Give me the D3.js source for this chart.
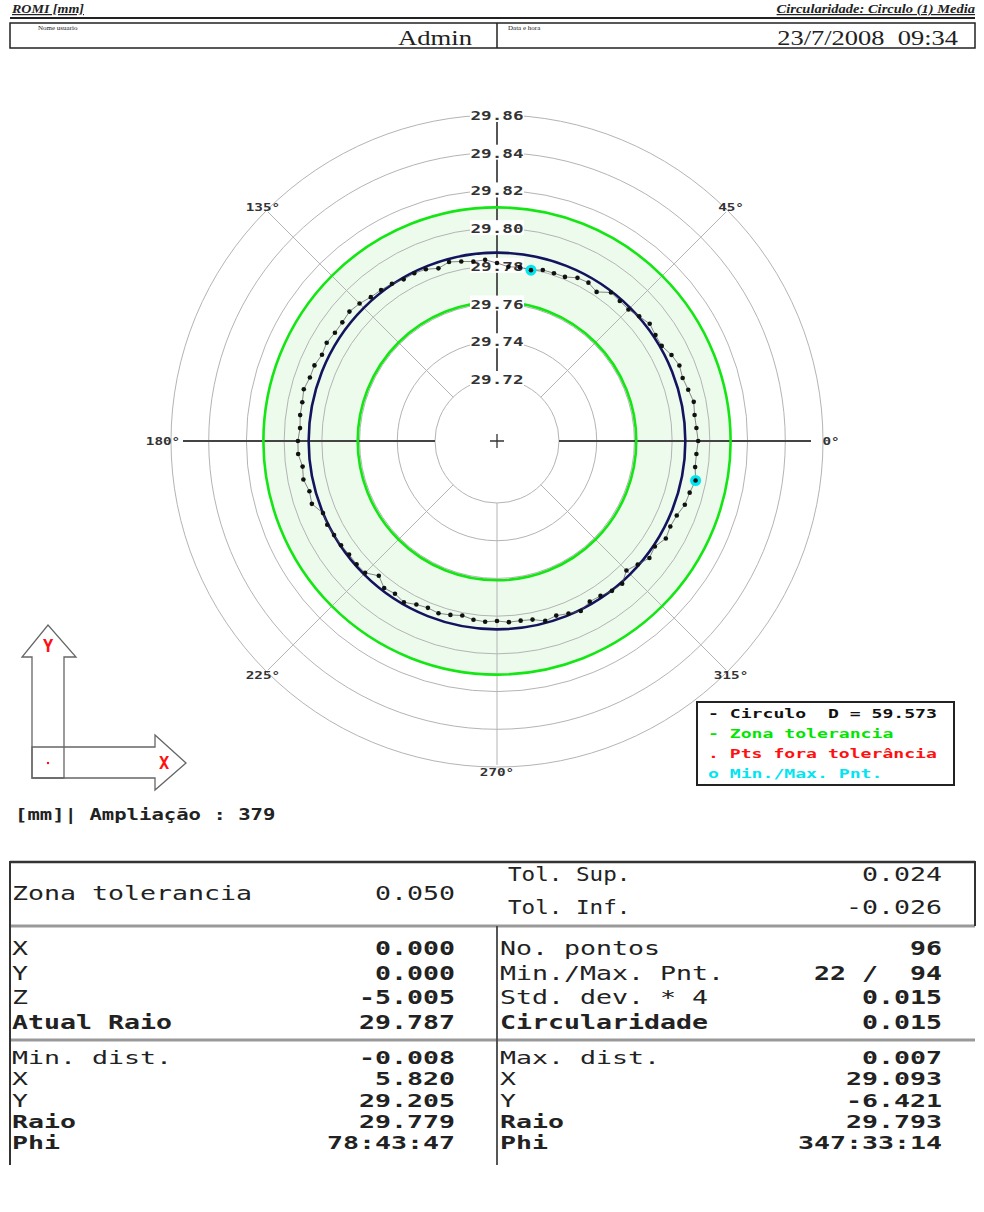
<!DOCTYPE html>
<html>
<head>
<meta charset="utf-8">
<script src="https://cdn.jsdelivr.net/npm/d3@7"></script>
<style>
  body { margin: 0; background: #fff; }
  svg { display: block; }
  text { white-space: pre; }
</style>
</head>
<body>
<svg id="chart"></svg>
<script>
// ring values on the radial axis
var ringValues = [29.72, 29.74, 29.76, 29.78, 29.80, 29.82, 29.84, 29.86];
var ringLabels = ["29.72", "29.74", "29.76", "29.78", "29.80", "29.82", "29.84", "29.86"];
var angleTicks = [0, 45, 135, 180, 225, 270, 315];
var angleLabels = ["0°", "45°", "135°", "180°", "225°", "270°", "315°"];

var nominalRadius = 29.787;
var tolSup = 0.024;
var tolInf = -0.026;
var pointCount = 96;
var minMaxPoints = [22, 94];
// deviation of every measured point from the fitted circle, in micrometres
var pointDev = [
  6.8, 6.1, 5.8, 6.5, 5.1, 4.1, 4.8, 3.3, 1.0, 1.2,
  2.2, 0.4, -1.3, -1.1, -0.6, -4.8, -2.9, -3.4, -5.7, -5.9,
  -6.0, -7.5, -6.9, -7.3, -5.5, -3.6, -3.9, -2.8, -1.6, -3.2,
  -1.3, -0.7, -0.9, 0.4, 1.1, 1.6, 3.2, 4.2, 3.5, 3.5,
  4.4, 3.6, 4.9, 4.9, 6.2, 5.4, 5.4, 4.8, 5.7, 5.8,
  4.1, 4.8, 3.1, 3.8, 0.0, 0.5, -0.1, -0.4, -1.0, -0.8,
  -1.0, -4.8, -1.6, -2.5, -1.1, -3.2, -4.1, -3.4, -4.4, -5.5,
  -4.3, -3.8, -4.4, -3.6, -3.8, -3.3, -1.1, -2.1, -0.8, 0.6,
  -1.5, -1.1, 0.3, 0.8, -2.8, -0.6, 2.0, 0.8, 3.5, 2.6,
  3.3, 5.3, 5.9, 7.5, 6.1, 6.1
];

var legendItems = ["- Circulo  D = 59.573", "- Zona tolerancia", ". Pts fora tolerância", "o Min./Max. Pnt."];
var legendColors = ["#111", "#00e600", "#ff1010", "#00e5f0"];

var tolRow = ["Zona tolerancia", "0.050"];
var tolRight = [["Tol. Sup.", "0.024"], ["Tol. Inf.", "-0.026"]];
var midLeft = [["X", "0.000"], ["Y", "0.000"], ["Z", "-5.005"], ["Atual Raio", "29.787"]];
var midRight = [["No. pontos", "96"], ["Min./Max. Pnt.", "22 /  94"], ["Std. dev. * 4", "0.015"], ["Circularidade", "0.015"]];
var lowLeft = [["Min. dist.", "-0.008"], ["X", "5.820"], ["Y", "29.205"], ["Raio", "29.779"], ["Phi", "78:43:47"]];
var lowRight = [["Max. dist.", "0.007"], ["X", "29.093"], ["Y", "-6.421"], ["Raio", "29.793"], ["Phi", "347:33:14"]];

var width = 984, height = 1212;
var svg = d3.select("#chart").attr("width", width).attr("height", height);
svg.append("rect").attr("width", width).attr("height", height).attr("fill", "#fff");

function mono(g, x, y, str, o) {
  var t = g.append("text")
    .attr("x", x).attr("y", y)
    .attr("font-family", o.family || "DejaVu Sans Mono")
    .attr("font-size", o.size)
    .attr("font-weight", o.weight || "bold")
    .attr("font-style", o.style || "normal")
    .attr("fill", o.color || "#222")
    .attr("text-anchor", o.anchor || "start")
    .text(str);
  if (o.cw) t.attr("textLength", str.length * o.cw).attr("lengthAdjust", "spacingAndGlyphs");
  return t;
}

// ---- header ----
var head = svg.append("g");
mono(head, 12, 13, "ROMI [mm]", {family: "Liberation Serif", size: 12, style: "italic", cw: 8}).attr("text-decoration", "underline");
mono(head, 975, 13, "Circularidade: Circulo (1) Media", {family: "Liberation Serif", size: 12, style: "italic", anchor: "end", cw: 6.2}).attr("text-decoration", "underline");
head.append("line").attr("x1", 10).attr("x2", 975).attr("y1", 18).attr("y2", 18).attr("stroke", "#222").attr("stroke-width", 2);
head.append("rect").attr("x", 10).attr("y", 23).attr("width", 965).attr("height", 25).attr("fill", "none").attr("stroke", "#222").attr("stroke-width", 1.5);
head.append("line").attr("x1", 497).attr("x2", 497).attr("y1", 23).attr("y2", 48).attr("stroke", "#222").attr("stroke-width", 1.5);
mono(head, 38, 30, "Nome usuario", {family: "Liberation Serif", size: 7, weight: "normal"});
mono(head, 508, 30, "Data e hora", {family: "Liberation Serif", size: 7, weight: "normal"});
mono(head, 472, 45, "Admin", {family: "Liberation Serif", size: 21, weight: "normal", anchor: "end", cw: 14.8});
mono(head, 958, 45, "23/7/2008  09:34", {family: "Liberation Serif", size: 21, weight: "normal", anchor: "end", cw: 11.3});

// ---- polar plot ----
var cx = 497, cy = 441;
var r = d3.scaleLinear().domain([29.72, 29.86]).range([62, 326]);
var plot = svg.append("g").attr("transform", "translate(" + cx + "," + cy + ")");
function toRad(deg) { return deg * Math.PI / 180; }
function px(deg, rad) { return rad * Math.cos(toRad(deg)); }
function py(deg, rad) { return -rad * Math.sin(toRad(deg)); }

// tolerance zone fill
plot.append("path")
  .attr("d", d3.arc()({innerRadius: r(nominalRadius + tolInf), outerRadius: r(nominalRadius + tolSup), startAngle: 0, endAngle: 2 * Math.PI}))
  .attr("fill", "#edfbed");

// grid rings
plot.selectAll("circle.ring").data(ringValues).enter().append("circle")
  .attr("class", "ring").attr("r", function(d) { return r(d); })
  .attr("fill", "none").attr("stroke", "#b4b4b4").attr("stroke-width", 1);

// spokes
angleTicks.concat([90]).forEach(function(a) {
  var strong = (a === 0 || a === 180 || a === 90);
  var outer = (a === 0 || a === 180) ? 314 : 324;
  plot.append("line")
    .attr("x1", px(a, r(29.72))).attr("y1", py(a, r(29.72)))
    .attr("x2", px(a, outer)).attr("y2", py(a, outer))
    .attr("stroke", strong ? "#444" : "#b4b4b4")
    .attr("stroke-width", strong ? 1.8 : 1);
});
plot.append("path").attr("d", "M-7,0H7M0,-7V7").attr("stroke", "#333").attr("stroke-width", 1.3);

// angle labels
angleTicks.forEach(function(a, i) {
  var rr = (a === 0 || a === 180) ? 334 : 331;
  mono(plot, px(a, rr), py(a, rr) + 4, angleLabels[i], {size: 11, color: "#333", anchor: "middle", cw: 8.6});
});

// tolerance circles and fitted circle
[tolSup, tolInf].forEach(function(t) {
  plot.append("circle").attr("r", r(nominalRadius + t))
    .attr("fill", "none").attr("stroke", "#14e614").attr("stroke-width", 2.6);
});
plot.append("circle").attr("r", r(nominalRadius))
  .attr("fill", "none").attr("stroke", "#14145e").attr("stroke-width", 2.6);

// ring value labels on the vertical axis
ringValues.forEach(function(v, i) {
  var y = -r(v);
  plot.append("rect").attr("x", -27).attr("y", y - 8).attr("width", 54).attr("height", 15).attr("fill", "#fff");
  mono(plot, 0, y + 5, ringLabels[i], {size: 13, color: "#333", anchor: "middle", cw: 10.6});
});

// measured profile
var pts = pointDev.map(function(d, i) {
  return {idx: i + 1, ang: i * 360 / pointCount, val: nominalRadius + d / 1000};
});
var radial = d3.lineRadial()
  .angle(function(d) { return toRad(90 - d.ang); })
  .radius(function(d) { return r(d.val); })
  .curve(d3.curveLinearClosed);
plot.append("path").datum(pts).attr("d", radial)
  .attr("fill", "none").attr("stroke", "#555").attr("stroke-width", 0.7);

plot.selectAll("circle.mm").data(pts.filter(function(d) { return minMaxPoints.indexOf(d.idx) >= 0; }))
  .enter().append("circle").attr("class", "mm")
  .attr("cx", function(d) { return px(d.ang, r(d.val)); })
  .attr("cy", function(d) { return py(d.ang, r(d.val)); })
  .attr("r", 5.5).attr("fill", "#00e5f0");

plot.selectAll("circle.pt").data(pts).enter().append("circle").attr("class", "pt")
  .attr("cx", function(d) { return px(d.ang, r(d.val)); })
  .attr("cy", function(d) { return py(d.ang, r(d.val)); })
  .attr("r", 2.3)
  .attr("fill", "#111");

// legend
var leg = svg.append("g");
leg.append("rect").attr("x", 697).attr("y", 702).attr("width", 257).attr("height", 83)
  .attr("fill", "#fff").attr("stroke", "#222").attr("stroke-width", 2);
legendItems.forEach(function(s, i) {
  mono(leg, 708, 718 + i * 20, s, {size: 13, color: legendColors[i], cw: 10.9});
});

// axis orientation icon
var icon = svg.append("g").attr("fill", "none").attr("stroke", "#666").attr("stroke-width", 1.3);
icon.append("path").attr("d", "M32,778V657H22L48,625L76,657H64V778Z");
icon.append("path").attr("d", "M32,747H155V735L186,763L155,790V778H32Z");
mono(svg, 48, 652, "Y", {size: 17, color: "#ff1010", anchor: "middle"});
mono(svg, 164, 769, "X", {size: 17, color: "#ff1010", anchor: "middle"});
svg.append("circle").attr("cx", 48).attr("cy", 763).attr("r", 1.2).attr("fill", "#ff1010");
mono(svg, 15, 820, "[mm]| Ampliação : 379", {size: 15, color: "#222", cw: 12.4});

// ---- results table ----
var tb = svg.append("g");
function hline(y, w, c) { tb.append("line").attr("x1", 10).attr("x2", 975).attr("y1", y).attr("y2", y).attr("stroke", c).attr("stroke-width", w); }
function vline(x, y1, y2, w, c) { tb.append("line").attr("x1", x).attr("x2", x).attr("y1", y1).attr("y2", y2).attr("stroke", c).attr("stroke-width", w); }
hline(862, 2.5, "#333");
hline(926, 3, "#999");
hline(1040, 3, "#999");
vline(10, 861, 1165, 2, "#333");
vline(975, 861, 926, 2, "#333");
vline(497, 926, 1165, 1.8, "#444");

var tcw = 16, tsize = 19;
mono(tb, 12, 900, tolRow[0], {size: tsize, weight: "normal", cw: tcw});
mono(tb, 455, 900, tolRow[1], {size: tsize, weight: "normal", anchor: "end", cw: tcw});
tolRight.forEach(function(row, i) {
  mono(tb, 508, 881 + i * 33, row[0], {size: tsize, weight: "normal", cw: tcw - 2.4});
  mono(tb, 942, 881 + i * 33, row[1], {size: tsize, weight: "normal", anchor: "end", cw: tcw});
});
function block(rows, xl, xr, y0, step, size, boldFrom) {
  rows.forEach(function(row, i) {
    var w = i >= boldFrom ? "bold" : "normal";
    mono(tb, xl, y0 + i * step, row[0], {size: size, weight: w, cw: tcw});
    mono(tb, xr, y0 + i * step, row[1], {size: size, weight: "bold", anchor: "end", cw: tcw});
  });
}
block(midLeft, 12, 455, 955, 24.7, tsize, 3);
block(midRight, 500, 942, 955, 24.7, tsize, 3);
block(lowLeft, 12, 455, 1064, 21.3, 17.5, 3);
block(lowRight, 500, 942, 1064, 21.3, 17.5, 3);
</script>
</body>
</html>
